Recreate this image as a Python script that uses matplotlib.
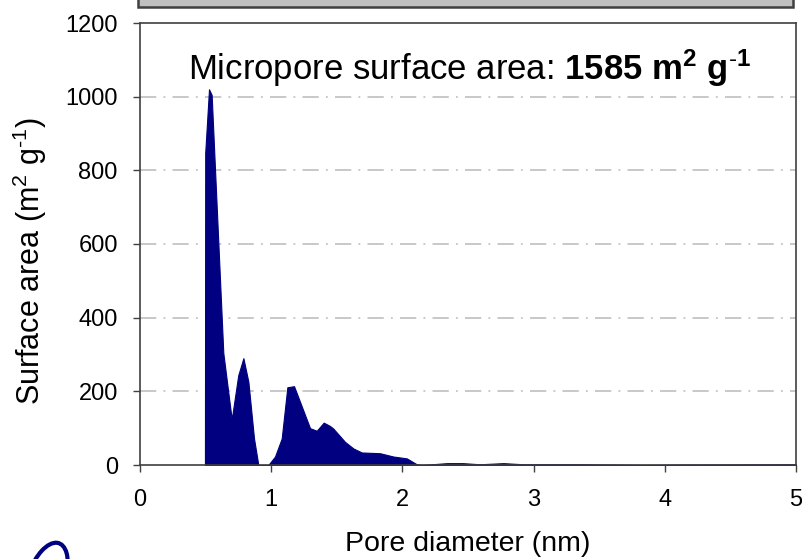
import matplotlib
matplotlib.use("Agg")
import matplotlib.pyplot as plt
from matplotlib.patches import Rectangle, Arc

plt.rcParams["font.family"] = ["Liberation Sans", "DejaVu Sans"]
plt.rcParams["mathtext.fontset"] = "custom"
plt.rcParams["mathtext.rm"] = "Liberation Sans"
plt.rcParams["mathtext.it"] = "Liberation Sans:italic"
plt.rcParams["mathtext.bf"] = "Liberation Sans:bold"

# pore size distribution
pore_diameter = [0.495, 0.497, 0.526, 0.546, 0.635, 0.699, 0.749, 0.788, 0.826,
                 0.869, 0.902, 0.978, 1.029, 1.08, 1.123, 1.174, 1.296, 1.347,
                 1.40, 1.448, 1.473, 1.562, 1.626, 1.69, 1.829, 1.931, 2.033,
                 2.109, 2.15, 2.34, 2.46, 2.59, 2.77, 2.92, 3.35, 3.86, 4.12, 5.0]
surface_area = [0, 847, 1020, 1005, 304, 124, 244, 290, 226,
                72, 0, 0, 23, 72, 211, 214, 100, 93,
                115, 106, 99, 63, 45, 34, 32, 23, 18,
                2, 0, 5, 5, 2, 5, 2, 2, 0, 1, 2]

x_ticks = [0, 1, 2, 3, 4, 5]
y_ticks = [0, 200, 400, 600, 800, 1000, 1200]

NAVY = "#000080"
EDGE = "#404040"

fig = plt.figure(figsize=(8.03, 5.59), dpi=100)
ax = fig.add_axes([140 / 803, 1 - 465 / 559, 656 / 803, 442 / 559])

ax.fill_between(pore_diameter, surface_area, 0, color=NAVY, lw=0.8, zorder=2)

ax.set_xlim(0, 5)
ax.set_ylim(0, 1200)
ax.set_xticks(x_ticks)
ax.set_yticks(y_ticks)
ax.tick_params(direction="out", length=5, width=1, colors=EDGE,
               labelcolor="black", labelsize=17)
ax.tick_params(axis="y", pad=11)
ax.tick_params(axis="x", pad=12)
for s in ax.spines.values():
    s.set_color(EDGE)
    s.set_linewidth(1.2)

for yv in y_ticks[1:-1]:
    ax.axhline(yv, color="#c4c4c4", lw=1.3, ls=(0, (9, 4, 1, 4)), zorder=1)

# label coords: xlabel anchored at its top, ylabel at its right-hand side
ax.set_xlabel("Pore diameter (nm)", fontsize=20.5)
ax.xaxis.set_label_coords(0.5, -0.15)
ax.set_ylabel(r"Surface area (m$^2$ g$^{\text{-}1}$)", fontsize=22)
ax.yaxis.set_label_coords(-0.139, 0.46)

ax.text(2.51, 1078,
        r"Micropore surface area: $\mathbf{1585\ m^2\ g^{\text{-}\mathbf{1}}}$",
        ha="center", va="center", fontsize=25)

# grey title box, cut off at the top edge
fig.add_artist(Rectangle((138 / 803, 1 - 7 / 559), 655 / 803, 0.05,
                         transform=fig.transFigure, facecolor="#c0c0c0",
                         edgecolor=EDGE, lw=1.8, clip_on=False))

# bit of the logo peeking in at the bottom left
fig.add_artist(Arc((46 / 803, 1 - 580 / 559), 38 / 803, 76 / 559, angle=-12,
                   theta1=25, theta2=160, transform=fig.transFigure,
                   color=NAVY, lw=3))

fig.savefig("out.png", dpi=100)
